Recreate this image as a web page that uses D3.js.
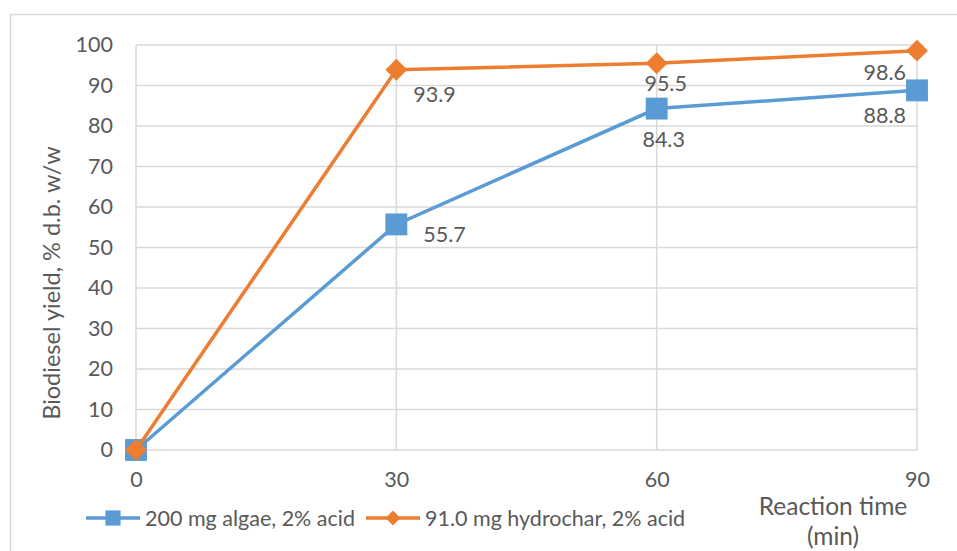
<!DOCTYPE html>
<html>
<head>
<meta charset="utf-8">
<script src="https://cdn.jsdelivr.net/npm/d3@7"></script>
<style>
  body { margin: 0; background: #fff; }
  text { font-family: Lato, "Open Sans", sans-serif; fill: #595959; }
</style>
</head>
<body>
<div id="chart"></div>
<script>
// Daten
const times = [0, 30, 60, 90];
const algae = [0, 55.7, 84.3, 88.8];
const hydrochar = [0, 93.9, 95.5, 98.6];
const yTicks = [0, 10, 20, 30, 40, 50, 60, 70, 80, 90, 100];
const seriesNames = ['200 mg algae, 2% acid', '91.0 mg hydrochar, 2% acid'];

// Position der Datenbeschriftungen relativ zum Punkt (wie im Original verschoben)
const algaeLabelOffsets = [null, [27, 10, 'start'], [7, 31, 'middle'], [-11, 25, 'end']];
const hydrocharLabelOffsets = [null, [17, 25, 'start'], [9, 20, 'middle'], [-11, 22, 'end']];

const width = 957, height = 551;
const margin = { top: 45, right: 40, bottom: 101, left: 136 };
const fontSize = '21.5px';

const svg = d3.select('#chart').append('svg')
    .attr('width', width)
    .attr('height', height);

// Rahmen des Diagrammbereichs
svg.append('rect')
    .attr('x', 10.5).attr('y', 14.5)
    .attr('width', 960).attr('height', 560)
    .attr('fill', 'none')
    .attr('stroke', '#d9d9d9')
    .attr('stroke-width', 1.5);

const x = d3.scaleLinear().domain([0, 90]).range([margin.left, 917]);
const y = d3.scaleLinear().domain([0, 100]).range([450, margin.top]);

// Horizontale Gitterlinien
svg.append('g')
    .selectAll('line')
    .data(yTicks)
    .enter().append('line')
    .attr('x1', x(0)).attr('x2', x(90))
    .attr('y1', d => y(d)).attr('y2', d => y(d))
    .attr('stroke', '#d9d9d9')
    .attr('stroke-width', 1.5);

// Vertikale Gitterlinien
svg.append('g')
    .selectAll('line')
    .data(times)
    .enter().append('line')
    .attr('x1', d => x(d)).attr('x2', d => x(d))
    .attr('y1', y(0)).attr('y2', y(100))
    .attr('stroke', '#d9d9d9')
    .attr('stroke-width', 1.5);

// Y-Achse
const yAxis = svg.append('g')
    .attr('transform', `translate(${x(0)},0)`)
    .call(d3.axisLeft(y).tickValues(yTicks).tickSize(0).tickPadding(23));
yAxis.select('.domain').remove();
yAxis.selectAll('text').style('font-size', fontSize).attr('fill', '#595959');

// X-Achse
const xAxis = svg.append('g')
    .attr('transform', `translate(0,${y(0)})`)
    .call(d3.axisBottom(x).tickValues(times).tickSize(0).tickPadding(22));
xAxis.select('.domain').remove();
xAxis.selectAll('text').style('font-size', fontSize).attr('fill', '#595959');

// Achsentitel
svg.append('text')
    .attr('transform', 'rotate(-90)')
    .attr('x', -283)
    .attr('y', 60)
    .attr('text-anchor', 'middle')
    .style('font-size', '23.5px')
    .text('Biodiesel yield, % d.b. w/w');

svg.append('text')
    .attr('x', 833).attr('y', 515)
    .attr('text-anchor', 'middle')
    .style('font-size', '24.5px')
    .text('Reaction time');
svg.append('text')
    .attr('x', 833).attr('y', 545)
    .attr('text-anchor', 'middle')
    .style('font-size', '24.5px')
    .text('(min)');

const line = d3.line()
    .x((d, i) => x(times[i]))
    .y(d => y(d));

const blue = '#5b9bd5', orange = '#ed7d31';
const square = d3.symbol().type(d3.symbolSquare).size(480);
const diamond = d3.symbol().type(d3.symbolSquare).size(240);

// Linien und Marker zeichnen
function drawSeries(values, color, marker, rotate) {
    svg.append('path')
        .datum(values)
        .attr('d', line)
        .attr('fill', 'none')
        .attr('stroke', color)
        .attr('stroke-width', 3.5);

    svg.append('g')
        .selectAll('path')
        .data(values)
        .enter().append('path')
        .attr('d', marker)
        .attr('transform', (d, i) => `translate(${x(times[i])},${y(d)}) rotate(${rotate})`)
        .attr('fill', color);
}

drawSeries(algae, blue, square, 0);
drawSeries(hydrochar, orange, diamond, 45);

// Datenbeschriftungen
function drawLabels(values, offsets) {
    svg.append('g')
        .selectAll('text')
        .data(values.map((v, i) => ({ v, i })).filter(d => offsets[d.i]))
        .enter().append('text')
        .attr('x', d => x(times[d.i]) + offsets[d.i][0])
        .attr('y', d => y(d.v) + offsets[d.i][1])
        .attr('dy', '0.35em')
        .attr('text-anchor', d => offsets[d.i][2])
        .style('font-size', fontSize)
        .text(d => d.v.toFixed(1));
}

drawLabels(algae, algaeLabelOffsets);
drawLabels(hydrochar, hydrocharLabelOffsets);

// Legende
const legend = svg.append('g').attr('transform', 'translate(0,518)');
const legendItems = [
    { name: seriesNames[0], color: blue, marker: d3.symbol().type(d3.symbolSquare).size(230), rotate: 0, x0: 86 },
    { name: seriesNames[1], color: orange, marker: d3.symbol().type(d3.symbolSquare).size(110), rotate: 45, x0: 366 }
];
legendItems.forEach(item => {
    legend.append('line')
        .attr('x1', item.x0).attr('x2', item.x0 + 54)
        .attr('y1', 0).attr('y2', 0)
        .attr('stroke', item.color)
        .attr('stroke-width', 3.5);
    legend.append('path')
        .attr('d', item.marker())
        .attr('transform', `translate(${item.x0 + 27},0) rotate(${item.rotate})`)
        .attr('fill', item.color);
    legend.append('text')
        .attr('x', item.x0 + 59)
        .attr('dy', '0.35em')
        .style('font-size', fontSize)
        .text(item.name);
});
</script>
</body>
</html>
